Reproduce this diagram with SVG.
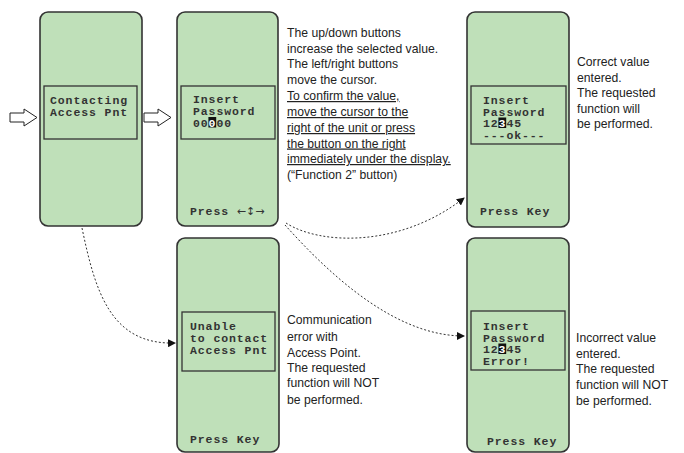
<svg xmlns="http://www.w3.org/2000/svg" width="684" height="453" viewBox="0 0 684 453">
<defs>
<style>
.panel{fill:#bfe0b9;stroke:#333;stroke-width:1.6}
.disp{fill:#bfe0b9;stroke:#333;stroke-width:1.3}
.mono{font-family:"Liberation Mono","Courier New",monospace;font-weight:bold;font-size:11.5px;letter-spacing:0.9px;fill:#333}
.hl{fill:#111}
.note{font-family:"Liberation Sans",Arial,sans-serif;font-size:12.2px;fill:#222}
.u{text-decoration:underline}
.conn{fill:none;stroke:#333;stroke-width:1;stroke-dasharray:2,2}
.bigarrow{fill:#fff;stroke:#222;stroke-width:1}
.arw{font-family:"DejaVu Sans",sans-serif;font-weight:normal;font-size:11px;letter-spacing:0}
</style>
<marker id="ah" markerWidth="8" markerHeight="8" refX="7" refY="4" orient="auto" markerUnits="userSpaceOnUse">
<path d="M0,0 L8,4 L0,8 Z" fill="#111"/>
</marker>
</defs>

<g id="entry-arrow">
<polygon class="bigarrow" points="10,113 24,113 24,109 37,117.5 24,126 24,122 10,122"/>
</g>

<g id="panel-contacting">
<rect class="panel" x="40" y="12" width="102" height="214" rx="8"/>
<rect class="disp" x="44" y="86" width="93" height="53"/>
<text class="mono" x="50" y="104">Contacting</text>
<text class="mono" x="50" y="115.5">Access Pnt</text>
</g>

<g id="step-arrow">
<polygon class="bigarrow" points="144,113 158,113 158,109 171,117.5 158,126 158,122 144,122"/>
</g>

<g id="panel-insert">
<rect class="panel" x="177" y="12" width="101" height="214" rx="8"/>
<rect class="disp" x="181" y="86" width="94" height="53"/>
<rect class="hl" x="208.4" y="117" width="7.8" height="10.5"/>
<text class="mono" x="193" y="103">Insert</text>
<text class="mono" x="193" y="114.8">Password</text>
<text class="mono" x="193" y="126.5">00<tspan fill="#fff">0</tspan>00</text>
<text class="mono" x="190" y="215">Press <tspan class="arw">←↕→</tspan></text>
</g>

<g id="note-insert">
<text class="note" x="287" y="37">The up/down buttons</text>
<text class="note" x="287" y="52.5">increase the selected value.</text>
<text class="note" x="287" y="68">The left/right buttons</text>
<text class="note" x="287" y="84">move the cursor.</text>
<text class="note u" x="287" y="100">To confirm the value, </text>
<text class="note u" x="287" y="116">move the cursor to the </text>
<text class="note u" x="287" y="132">right of the unit or press </text>
<text class="note u" x="287" y="147.5">the button on the right </text>
<text class="note u" x="287" y="163">immediately under the display.</text>
<text class="note" x="287" y="179">(“Function 2” button)</text>
</g>

<g id="panel-ok">
<rect class="panel" x="467" y="12" width="102" height="215" rx="8"/>
<rect class="disp" x="471" y="86" width="95" height="58"/>
<rect class="hl" x="498.4" y="117.5" width="7.8" height="10.5"/>
<text class="mono" x="483" y="104">Insert</text>
<text class="mono" x="483" y="115.5">Password</text>
<text class="mono" x="483" y="127">12<tspan fill="#fff">3</tspan>45</text>
<text class="mono" x="483" y="138.5">---ok---</text>
<text class="mono" x="480" y="215">Press Key</text>
</g>

<g id="note-ok">
<text class="note" x="577" y="66">Correct value</text>
<text class="note" x="577" y="81.5">entered.</text>
<text class="note" x="577" y="97">The requested</text>
<text class="note" x="577" y="112.5">function will</text>
<text class="note" x="577" y="128">be performed.</text>
</g>

<g id="panel-unable">
<rect class="panel" x="177" y="238" width="102" height="214" rx="8"/>
<rect class="disp" x="182" y="312" width="93" height="59"/>
<text class="mono" x="190" y="330">Unable</text>
<text class="mono" x="190" y="342">to contact</text>
<text class="mono" x="190" y="353.5">Access Pnt</text>
<text class="mono" x="190" y="443">Press Key</text>
</g>

<g id="note-unable">
<text class="note" x="287" y="324">Communication</text>
<text class="note" x="287" y="340.5">error with</text>
<text class="note" x="287" y="356.5">Access Point.</text>
<text class="note" x="287" y="371.5">The requested</text>
<text class="note" x="287" y="387">function will NOT</text>
<text class="note" x="287" y="403.5">be performed.</text>
</g>

<g id="panel-error">
<rect class="panel" x="467" y="238" width="102" height="214" rx="8"/>
<rect class="disp" x="471" y="311" width="94" height="59"/>
<rect class="hl" x="498.4" y="343.5" width="7.8" height="10.5"/>
<text class="mono" x="483" y="330">Insert</text>
<text class="mono" x="483" y="341.5">Password</text>
<text class="mono" x="483" y="353">12<tspan fill="#fff">3</tspan>45</text>
<text class="mono" x="483" y="364.5">Error!</text>
<text class="mono" x="487" y="445">Press Key</text>
</g>

<g id="note-error">
<text class="note" x="576" y="342">Incorrect value</text>
<text class="note" x="576" y="357.5">entered.</text>
<text class="note" x="576" y="373">The requested</text>
<text class="note" x="576" y="388.5">function will NOT</text>
<text class="note" x="576" y="404.5">be performed.</text>
</g>

<g id="connectors">
<path class="conn" d="M82,228 C95,290 110,345 175,343" marker-end="url(#ah)"/>
<path class="conn" d="M286,223 C320,245 400,248 464,198" marker-end="url(#ah)"/>
<path class="conn" d="M285,225 C330,275 395,336 464,336" marker-end="url(#ah)"/>
</g>
</svg>
